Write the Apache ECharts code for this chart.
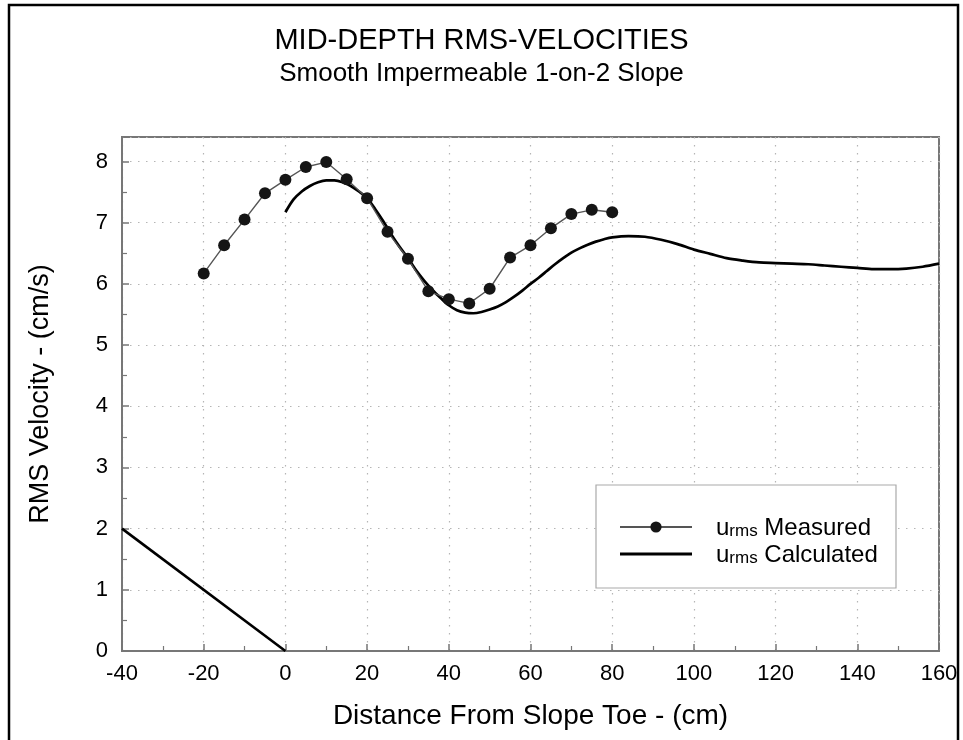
<!DOCTYPE html>
<html>
<head>
<meta charset="utf-8">
<script src="https://cdn.jsdelivr.net/npm/echarts@6/dist/echarts.min.js"></script>
<style>
html,body{margin:0;padding:0;background:#fff;}
#chart{width:963px;height:740px;}
</style>
</head>
<body>
<div id="chart"></div>
<script>
// ---- data ----
var titleText = 'MID-DEPTH RMS-VELOCITIES';
var subtitleText = 'Smooth Impermeable 1-on-2 Slope';
var xAxisName = 'Distance From Slope Toe - (cm)';
var yAxisName = 'RMS Velocity - (cm/s)';
var seriesNames = ['Measured', 'Calculated'];

var measX = [-20, -15, -10, -5, 0, 5, 10, 15, 20, 25, 30, 35, 40, 45, 50, 55, 60, 65, 70, 75, 80];
var measY = [6.17, 6.63, 7.05, 7.48, 7.70, 7.91, 7.99, 7.71, 7.40, 6.85, 6.41, 5.88, 5.75, 5.68, 5.92, 6.43, 6.63, 6.91, 7.14, 7.21, 7.17];

var calcX = [0, 2, 4, 6, 8, 10, 12, 14, 16, 18, 20, 22, 24, 26, 28, 30, 32, 34, 36, 38, 40, 42, 44, 46, 48, 50, 52, 54, 56, 58, 60, 62, 64, 66, 68, 70, 72, 74, 76, 78, 80, 84, 88, 92, 96, 100, 104, 108, 112, 116, 120, 124, 128, 132, 136, 140, 144, 148, 152, 156, 160];
var calcY = [7.17, 7.38, 7.51, 7.60, 7.66, 7.69, 7.69, 7.66, 7.60, 7.51, 7.40, 7.22, 7.02, 6.80, 6.60, 6.42, 6.22, 6.05, 5.90, 5.77, 5.65, 5.57, 5.53, 5.52, 5.54, 5.58, 5.63, 5.70, 5.79, 5.89, 6.00, 6.10, 6.21, 6.32, 6.42, 6.51, 6.58, 6.64, 6.69, 6.73, 6.76, 6.78, 6.77, 6.72, 6.65, 6.56, 6.49, 6.42, 6.38, 6.35, 6.34, 6.33, 6.32, 6.30, 6.28, 6.26, 6.24, 6.24, 6.25, 6.28, 6.33];

var slopeX = [-40, 0];
var slopeY = [2, 0];

var xMin = -40, xMax = 160, xStep = 20;
var yMin = 0, yMax = 8.4, yStep = 1;

function zip(a, b) { return a.map(function (v, i) { return [v, b[i]]; }); }

var FONT = "'Liberation Sans', Arial, Helvetica, sans-serif";
var axisColor = '#777';

var chart = echarts.init(document.getElementById('chart'), null, {renderer: 'canvas'});
var option = {
  backgroundColor: '#fff',
  animation: false,
  textStyle: {fontFamily: FONT},
  title: {
    text: titleText,
    subtext: subtitleText,
    left: 'center',
    top: 21,
    itemGap: 6,
    textStyle: {fontFamily: FONT, fontSize: 29, fontWeight: 'normal', color: '#000'},
    subtextStyle: {fontFamily: FONT, fontSize: 26, color: '#000'}
  },
  grid: {
    left: 122, right: 24, top: 137, bottom: 89,
    show: true, borderColor: axisColor, borderWidth: 2, backgroundColor: 'transparent'
  },
  xAxis: {
    type: 'value', min: xMin, max: xMax, interval: xStep,
    name: xAxisName, nameLocation: 'middle', nameGap: 51,
    nameTextStyle: {fontFamily: FONT, fontSize: 28, color: '#000'},
    axisLine: {show: true, onZero: false, lineStyle: {color: axisColor, width: 2}},
    axisTick: {show: true, inside: true, length: 7, lineStyle: {color: axisColor, width: 1.5}},
    minorTick: {show: true, splitNumber: 2, length: 5, lineStyle: {color: axisColor, width: 1.2}},
    axisLabel: {fontFamily: FONT, fontSize: 22, color: '#000', margin: 12},
    splitLine: {show: true, lineStyle: {color: '#b5b5b5', type: [1.5, 6.5], width: 1.2}}
  },
  yAxis: {
    type: 'value', min: yMin, max: yMax, interval: yStep,
    name: yAxisName, nameLocation: 'middle', nameGap: 68, nameRotate: 90,
    nameTextStyle: {fontFamily: FONT, fontSize: 27, color: '#000'},
    axisLine: {show: true, onZero: false, lineStyle: {color: axisColor, width: 2}},
    axisTick: {show: true, inside: true, length: 7, lineStyle: {color: axisColor, width: 1.5}},
    minorTick: {show: true, splitNumber: 2, length: 5, lineStyle: {color: axisColor, width: 1.2}},
    axisLabel: {fontFamily: FONT, fontSize: 22, color: '#000', margin: 14, showMaxLabel: false},
    splitLine: {show: true, lineStyle: {color: '#b5b5b5', type: [1.5, 6.5], width: 1.2}}
  },
  legend: {
    data: [
      {name: seriesNames[0]},
      {name: seriesNames[1], icon: 'path://M0,0L72,0L72,3L0,3Z'}
    ],
    orient: 'vertical',
    left: 619, top: 515,
    padding: 0,
    itemWidth: 72, itemHeight: 14, itemGap: 2,
    selectedMode: false,
    z: 6,
    formatter: function (name) { return '{u|u}{s|rms} {t|' + name + '}'; },
    textStyle: {
      fontFamily: FONT, fontSize: 24, color: '#000',
      rich: {
        u: {fontFamily: FONT, fontSize: 24, color: '#000', lineHeight: 26, verticalAlign: 'bottom', padding: [0, 0, 0, 19]},
        s: {fontFamily: FONT, fontSize: 17, color: '#000', lineHeight: 16, verticalAlign: 'bottom'},
        t: {fontFamily: FONT, fontSize: 24, color: '#000', lineHeight: 26, verticalAlign: 'bottom'}
      }
    }
  },
  graphic: [
    {type: 'rect', z: 3, shape: {x: 596, y: 485, width: 300, height: 103},
     style: {fill: '#fff', stroke: '#aaa', lineWidth: 1.2}},
    {type: 'rect', z: 10, shape: {x: 9, y: 5, width: 949, height: 780},
     style: {fill: 'none', stroke: '#000', lineWidth: 2.5}}
  ],
  series: [
    {
      name: 'slope', type: 'line', data: zip(slopeX, slopeY),
      symbol: 'none', lineStyle: {color: '#000', width: 2.6}, silent: true, z: 2
    },
    {
      name: seriesNames[0], type: 'line', data: zip(measX, measY),
      symbol: 'circle', symbolSize: 12,
      itemStyle: {color: '#151515'},
      lineStyle: {color: '#555', width: 1.4}, z: 3
    },
    {
      name: seriesNames[1], type: 'line', data: zip(calcX, calcY),
      symbol: 'none', smooth: 0.3,
      itemStyle: {color: '#000'},
      lineStyle: {color: '#000', width: 2.7}, z: 2
    }
  ]
};
chart.setOption(option);
</script>
</body>
</html>
